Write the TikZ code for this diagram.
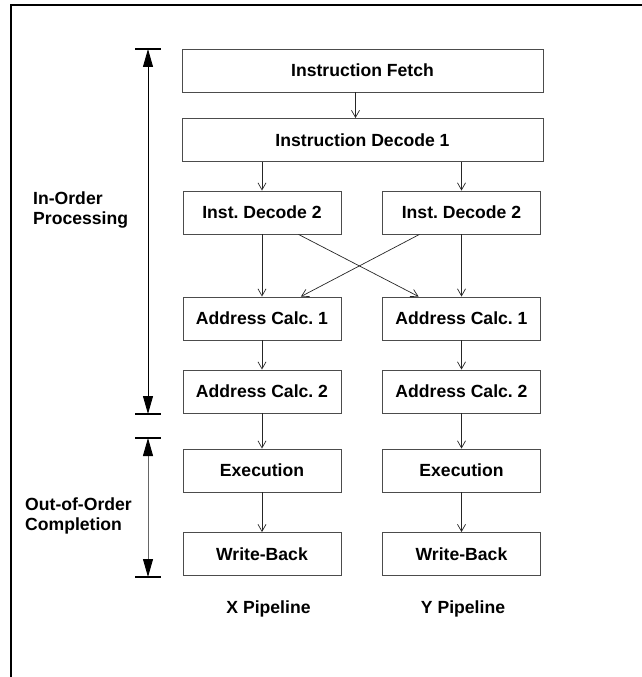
\documentclass[tikz,border=0pt]{standalone}
\usepackage{fontspec}
\setmainfont{Liberation Sans}
\usetikzlibrary{arrows.meta,calc}
\frenchspacing
\begin{document}
\begin{tikzpicture}[x=1pt,y=-1pt,
  stage/.style={draw=black!70,line width=0.9pt,inner sep=0pt,minimum height=43pt,
    font=\fontsize{17.6}{20}\selectfont\bfseries},
  wide/.style={stage,minimum width=361pt},
  narrow/.style={stage,minimum width=158pt},
  flow/.style={draw=black!85,line width=0.7pt,-{Straight Barb[length=7pt,width=8pt]}},
  dimline/.style={line width=0.9pt,{Triangle[length=18pt,width=10pt,color=black]}-{Triangle[length=18pt,width=10pt,color=black]}},
  bar/.style={line width=1.8pt},
  lbl/.style={inner sep=0pt,align=left,font=\fontsize{17.6}{20}\selectfont\bfseries},
  frame/.style={line width=2pt}]
\useasboundingbox (0,0) rectangle (641,677);
% outer frame (clipped by the page)
\coordinate (fbl) at (11,690);
\coordinate (ftl) at (11,5.5);
\coordinate (ftr) at (660,5.5);
\draw[frame] (fbl) -- (ftl) -- (ftr);

% boxes
\node[wide] (if) at (362.5,70.5) {Instruction Fetch};
\node[wide] (id1) at (362.5,140) {Instruction Decode 1};
\node[narrow] (idL) at (262,212.5) {Inst. Decode 2};
\node[narrow] (idR) at (461.5,212.5) {Inst. Decode 2};
\node[narrow] (acL) at (262,318.5) {Address Calc. 1};
\node[narrow] (acR) at (461.5,318.5) {Address Calc. 1};
\node[narrow] (ac2L) at (262,391.5) {Address Calc. 2};
\node[narrow] (ac2R) at (461.5,391.5) {Address Calc. 2};
\node[narrow] (exL) at (262,470.5) {Execution};
\node[narrow] (exR) at (461.5,470.5) {Execution};
\node[narrow] (wbL) at (262,554) {Write-Back};
\node[narrow] (wbR) at (461.5,554) {Write-Back};

% flow arrows
\draw[flow] ([xshift=-7pt]if.south) -- ([xshift=-7pt]if.south |- id1.north);
\draw[flow] (id1.south -| idL) -- (idL.north);
\draw[flow] (id1.south -| idR) -- (idR.north);
\draw[flow] (idL) -- (acL);
\draw[flow] (idR) -- (acR);
\draw[flow] ($(idL.south west)!0.73!(idL.south east)$) -- ($(acR.north west)!0.23!(acR.north east)$);
\draw[flow] ($(idR.south west)!0.235!(idR.south east)$) -- ($(acL.north west)!0.745!(acL.north east)$);
\draw[flow] (acL) -- (ac2L);
\draw[flow] (acR) -- (ac2R);
\draw[flow] (ac2L) -- (exL);
\draw[flow] (ac2R) -- (exR);
\draw[flow] (exL) -- (wbL);
\draw[flow] (exR) -- (wbR);

% dimension markers
\coordinate (ioT) at (148,49);
\coordinate (ioB) at (148,414);
\coordinate (ooT) at (148,438);
\coordinate (ooB) at (148,577);
\draw[bar] ([xshift=-13pt]ioT) -- ([xshift=13pt]ioT);
\draw[bar] ([xshift=-13pt]ioB) -- ([xshift=13pt]ioB);
\draw[bar] ([xshift=-13pt]ooT) -- ([xshift=13pt]ooT);
\draw[bar] ([xshift=-13pt]ooB) -- ([xshift=13pt]ooB);
\draw[dimline,draw=black] (ioT) -- (ioB);
\draw[dimline,draw=black!60] (ooT) -- (ooB);

% labels
\node[lbl,anchor=north west] (inord) at (33,191.5) {In-Order\\Processing};
\node[lbl,anchor=north west] (outord) at (25,497.5) {Out-of-Order\\Completion};
\node[lbl,anchor=base] (xp) at (268.5,613) {X Pipeline};
\node[lbl,anchor=base] (yp) at (463,613) {Y Pipeline};
\end{tikzpicture}
\end{document}
